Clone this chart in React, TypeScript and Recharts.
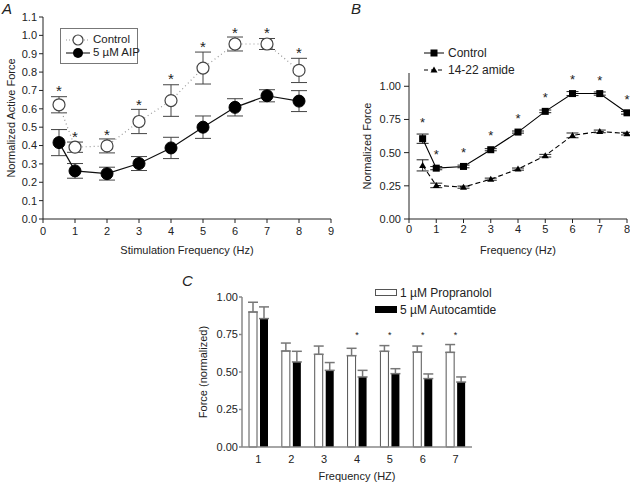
import React from 'react';
import { ComposedChart, Bar, Line, Scatter, XAxis, YAxis, ErrorBar, Legend } from 'recharts';

// panel A: stimulation frequency vs normalized active force
const freqA = [0.5, 1, 2, 3, 4, 5, 6, 7, 8];
const controlA = [0.622, 0.391, 0.398, 0.531, 0.645, 0.822, 0.953, 0.953, 0.809];
const controlAErr = [0.044, 0.028, 0.038, 0.066, 0.086, 0.087, 0.038, 0.03, 0.066];
const aipA = [0.416, 0.262, 0.247, 0.302, 0.387, 0.5, 0.608, 0.671, 0.642];
const aipAErr = [0.071, 0.04, 0.035, 0.038, 0.058, 0.061, 0.047, 0.033, 0.057];
const starA = [0.718, 0.467, 0.48, 0.64, 0.78, 0.958, 1.031, 1.031, 0.926];
const ticksAX = [0, 1, 2, 3, 4, 5, 6, 7, 8, 9];
const ticksAY = [0, 0.1, 0.2, 0.3, 0.4, 0.5, 0.6, 0.7, 0.8, 0.9, 1.0, 1.1];

// panel B: control vs 14-22 amide
const freqB = [0.5, 1, 2, 3, 4, 5, 6, 7, 8];
const controlB = [0.605, 0.383, 0.396, 0.522, 0.655, 0.811, 0.945, 0.945, 0.8];
const controlBErr = [0.035, 0.012, 0.01, 0.008, 0.008, 0.01, 0.015, 0.012, 0.01];
const amideB = [0.404, 0.253, 0.24, 0.3, 0.376, 0.477, 0.63, 0.66, 0.643];
const amideBErr = [0.042, 0.017, 0.008, 0.008, 0.008, 0.01, 0.018, 0.01, 0.01];
const starB = [0.749, 0.509, 0.525, 0.65, 0.781, 0.937, 1.075, 1.07, 0.925];
const ticksBX = [0, 1, 2, 3, 4, 5, 6, 7, 8];
const ticksBY = [0, 0.25, 0.5, 0.75, 1.0];

// panel C: propranolol vs autocamtide bars
const freqC = ['1', '2', '3', '4', '5', '6', '7'];
const propC = [0.9, 0.64, 0.618, 0.609, 0.638, 0.633, 0.631];
const propCErr = [0.065, 0.053, 0.055, 0.049, 0.038, 0.04, 0.052];
const autoC = [0.856, 0.567, 0.511, 0.467, 0.489, 0.456, 0.433];
const autoCErr = [0.078, 0.071, 0.052, 0.044, 0.033, 0.031, 0.034];
const starC = [null, null, null, 0.76, 0.76, 0.76, 0.76];
const ticksCY = [0, 0.25, 0.5, 0.75, 1.0];

const tableA = freqA.map((f, i) => ({
  f,
  control: controlA[i],
  controlErr: controlAErr[i],
  aip: aipA[i],
  aipErr: aipAErr[i],
  star: starA[i],
}));

const tableB = freqB.map((f, i) => ({
  f,
  control: controlB[i],
  controlErr: controlBErr[i],
  amide: amideB[i],
  amideErr: amideBErr[i],
  star: starB[i],
}));

const tableC = freqC.map((f, i) => ({
  f,
  prop: propC[i],
  propErr: [0, propCErr[i]],
  auto: autoC[i],
  autoErr: [0, autoCErr[i]],
  star: starC[i],
}));

const font = '"Liberation Sans", Arial, sans-serif';
const tickStyle = { fontSize: 11, fill: '#222' };

const starShape = (size: number) => (props: any) => {
  if (props.payload?.star == null || props.cx == null || props.cy == null) return <g />;
  return (
    <text x={props.cx} y={props.cy} dy={size * 0.58} textAnchor="middle" fontSize={size} fill="#222">
      *
    </text>
  );
};

const squareDot = (p: any) => (
  <rect key={'sq' + p.index} x={p.cx - 3.5} y={p.cy - 3.5} width={7} height={7} fill="#000" />
);

const triangleDot = (p: any) => (
  <polygon
    key={'tr' + p.index}
    points={`${p.cx},${p.cy - 3.5} ${p.cx - 3.5},${p.cy + 2.5} ${p.cx + 3.5},${p.cy + 2.5}`}
    fill="#000"
  />
);

const legendA = () => (
  <div
    style={{
      position: 'relative',
      width: 78,
      height: 36,
      boxSizing: 'border-box',
      border: '1.5px solid #777',
      background: '#fff',
      fontSize: 11.5,
      color: '#222',
      whiteSpace: 'nowrap',
    }}
  >
    <svg width={24} height={12} style={{ position: 'absolute', left: 5, top: 5 }}>
      <line x1={0} y1={6} x2={24} y2={6} stroke="#999" strokeDasharray="1 2" />
      <circle cx={12} cy={6} r={5} fill="#fff" stroke="#444" strokeWidth={1.2} />
    </svg>
    <span style={{ position: 'absolute', left: 32, top: 3, lineHeight: '14px' }}>Control</span>
    <svg width={24} height={12} style={{ position: 'absolute', left: 5, top: 18 }}>
      <line x1={0} y1={6} x2={24} y2={6} stroke="#000" />
      <circle cx={12} cy={6} r={5} fill="#000" />
    </svg>
    <span style={{ position: 'absolute', left: 32, top: 16, lineHeight: '14px' }}>5 µM AIP</span>
  </div>
);

const legendB = () => (
  <div style={{ position: 'relative', width: 110, height: 30, fontSize: 12, color: '#222', whiteSpace: 'nowrap' }}>
    <svg width={20} height={10} style={{ position: 'absolute', left: 0, top: 0 }}>
      <line x1={0} y1={5} x2={20} y2={5} stroke="#000" />
      <rect x={6.5} y={1.5} width={7} height={7} fill="#000" />
    </svg>
    <span style={{ position: 'absolute', left: 24, top: -2, lineHeight: '14px' }}>Control</span>
    <svg width={20} height={10} style={{ position: 'absolute', left: 0, top: 17 }}>
      <line x1={0} y1={5} x2={20} y2={5} stroke="#000" strokeDasharray="4 3" />
      <polygon points="10,1.5 6.5,7.5 13.5,7.5" fill="#000" />
    </svg>
    <span style={{ position: 'absolute', left: 24, top: 15, lineHeight: '14px' }}>14-22 amide</span>
  </div>
);

const legendC = () => (
  <div style={{ position: 'relative', width: 130, height: 30, fontSize: 12, color: '#222', whiteSpace: 'nowrap' }}>
    <div
      style={{
        position: 'absolute',
        left: 0,
        top: 0,
        width: 22,
        height: 7,
        boxSizing: 'border-box',
        border: '1px solid #555',
        background: '#fff',
      }}
    />
    <span style={{ position: 'absolute', left: 25, top: -3, lineHeight: '14px' }}>1 µM Propranolol</span>
    <div style={{ position: 'absolute', left: 0, top: 17, width: 22, height: 7, background: '#000' }} />
    <span style={{ position: 'absolute', left: 25, top: 14, lineHeight: '14px' }}>5 µM Autocamtide</span>
  </div>
);

const panelLetter = (text: string, left: number, top: number) => (
  <div
    style={{
      position: 'absolute',
      left,
      top,
      fontSize: 15,
      lineHeight: '17px',
      fontStyle: 'italic',
      color: '#222',
    }}
  >
    {text}
  </div>
);

export default function App() {
  return (
    <div
      style={{
        position: 'absolute',
        left: 0,
        top: 0,
        width: 630,
        height: 484,
        background: '#fff',
        fontFamily: font,
        overflow: 'hidden',
      }}
    >
      {panelLetter('A', 2, 0)}
      {panelLetter('B', 351, 0)}
      {panelLetter('C', 182, 272)}

      {/* Panel A */}
      <div style={{ position: 'absolute', left: 0, top: 0 }}>
        <ComposedChart width={345} height={260} data={tableA} margin={{ top: 17, right: 14, bottom: 5, left: 0 }}>
          <XAxis
            dataKey="f"
            type="number"
            domain={[0, 9]}
            ticks={ticksAX}
            tick={tickStyle}
            tickSize={4}
            tickMargin={4}
            stroke="#222"
            height={36}
            label={{ value: 'Stimulation Frequency (Hz)', position: 'insideBottom', offset: 1, fontSize: 11, fill: '#222' }}
          />
          <YAxis
            type="number"
            domain={[0, 1.1]}
            ticks={ticksAY}
            tick={tickStyle}
            tickFormatter={(v: number) => v.toFixed(1)}
            tickSize={4}
            tickMargin={2}
            stroke="#222"
            width={43}
            label={{
              value: 'Normalized Active Force',
              angle: -90,
              position: 'insideLeft',
              offset: 11,
              fontSize: 11,
              fill: '#222',
              style: { textAnchor: 'middle' },
            }}
          />
          <Legend
            layout="vertical"
            align="center"
            verticalAlign="middle"
            content={legendA}
            wrapperStyle={{ left: 60, top: 28, width: 78, height: 36 }}
          />
          {/* error bars first so the markers sit on top of them */}
          <Line dataKey="control" stroke="none" dot={false} activeDot={false} isAnimationActive={false} legendType="none">
            <ErrorBar dataKey="controlErr" width={8} stroke="#444" strokeWidth={1} />
          </Line>
          <Line dataKey="aip" stroke="none" dot={false} activeDot={false} isAnimationActive={false} legendType="none">
            <ErrorBar dataKey="aipErr" width={8} stroke="#444" strokeWidth={1} />
          </Line>
          <Line
            dataKey="control"
            stroke="#999"
            strokeWidth={1.2}
            strokeDasharray="1 3"
            dot={{ r: 6, fill: '#fff', stroke: '#444', strokeWidth: 1.2, strokeDasharray: '0' }}
            isAnimationActive={false}
          />
          <Line
            dataKey="aip"
            stroke="#111"
            strokeWidth={1.2}
            dot={{ r: 6, fill: '#000', stroke: '#000', strokeWidth: 1 }}
            isAnimationActive={false}
          />
          <Scatter dataKey="star" shape={starShape(15)} isAnimationActive={false} legendType="none" />
        </ComposedChart>
      </div>

      {/* Panel B */}
      <div style={{ position: 'absolute', left: 340, top: 0 }}>
        <ComposedChart width={290} height={260} data={tableB} margin={{ top: 73, right: 3, bottom: 5, left: 0 }}>
          <XAxis
            dataKey="f"
            type="number"
            domain={[0, 8]}
            ticks={ticksBX}
            tick={tickStyle}
            tickSize={4}
            tickMargin={2}
            stroke="#222"
            height={36}
            label={{ value: 'Frequency (Hz)', position: 'insideBottom', offset: 1, fontSize: 11, fill: '#222' }}
          />
          <YAxis
            type="number"
            domain={[0, 1.1]}
            ticks={ticksBY}
            tick={tickStyle}
            tickFormatter={(v: number) => v.toFixed(2)}
            tickSize={5}
            tickMargin={3}
            stroke="#222"
            width={69}
            label={{
              value: 'Normalized Force',
              angle: -90,
              position: 'insideLeft',
              offset: 27,
              fontSize: 11,
              fill: '#222',
              style: { textAnchor: 'middle' },
            }}
          />
          <Legend
            layout="vertical"
            align="center"
            verticalAlign="middle"
            content={legendB}
            wrapperStyle={{ left: 84, top: 48, width: 110, height: 30 }}
          />
          <Line dataKey="control" stroke="none" dot={false} activeDot={false} isAnimationActive={false} legendType="none">
            <ErrorBar dataKey="controlErr" width={6} stroke="#222" strokeWidth={1} />
          </Line>
          <Line dataKey="amide" stroke="none" dot={false} activeDot={false} isAnimationActive={false} legendType="none">
            <ErrorBar dataKey="amideErr" width={6} stroke="#222" strokeWidth={1} />
          </Line>
          <Line dataKey="control" stroke="#000" strokeWidth={1.1} dot={squareDot} isAnimationActive={false} />
          <Line
            dataKey="amide"
            stroke="#000"
            strokeWidth={1.1}
            strokeDasharray="5 3"
            dot={triangleDot}
            isAnimationActive={false}
          />
          <Scatter dataKey="star" shape={starShape(13)} isAnimationActive={false} legendType="none" />
        </ComposedChart>
      </div>

      {/* Panel C */}
      <div style={{ position: 'absolute', left: 170, top: 280 }}>
        <ComposedChart
          width={310}
          height={204}
          data={tableC}
          barSize={8}
          barGap={3}
          margin={{ top: 17, right: 8, bottom: 1, left: 0 }}
        >
          <XAxis
            dataKey="f"
            type="category"
            tick={tickStyle}
            tickLine={false}
            tickSize={6}
            tickMargin={2}
            stroke="#888"
            strokeWidth={1.5}
            height={36}
            label={{ value: 'Frequency (HZ)', position: 'insideBottom', offset: 3, fontSize: 11, fill: '#222' }}
          />
          <YAxis
            type="number"
            domain={[0, 1]}
            ticks={ticksCY}
            tick={tickStyle}
            tickFormatter={(v: number) => v.toFixed(2)}
            tickSize={3}
            tickMargin={1}
            stroke="#888"
            strokeWidth={1.5}
            width={72}
            label={{
              value: 'Force (normalized)',
              angle: -90,
              position: 'insideLeft',
              offset: 33,
              fontSize: 11,
              fill: '#222',
              style: { textAnchor: 'middle' },
            }}
          />
          <Legend
            layout="vertical"
            align="center"
            verticalAlign="middle"
            content={legendC}
            wrapperStyle={{ left: 205, top: 9, width: 130, height: 30 }}
          />
          <Bar dataKey="prop" fill="#fff" stroke="#555" strokeWidth={1} isAnimationActive={false}>
            <ErrorBar dataKey="propErr" width={5} stroke="#777" strokeWidth={1.5} />
          </Bar>
          <Bar dataKey="auto" fill="#000" isAnimationActive={false}>
            <ErrorBar dataKey="autoErr" width={5} stroke="#777" strokeWidth={1.5} />
          </Bar>
          <Scatter dataKey="star" shape={starShape(9)} isAnimationActive={false} legendType="none" />
        </ComposedChart>
      </div>
    </div>
  );
}
